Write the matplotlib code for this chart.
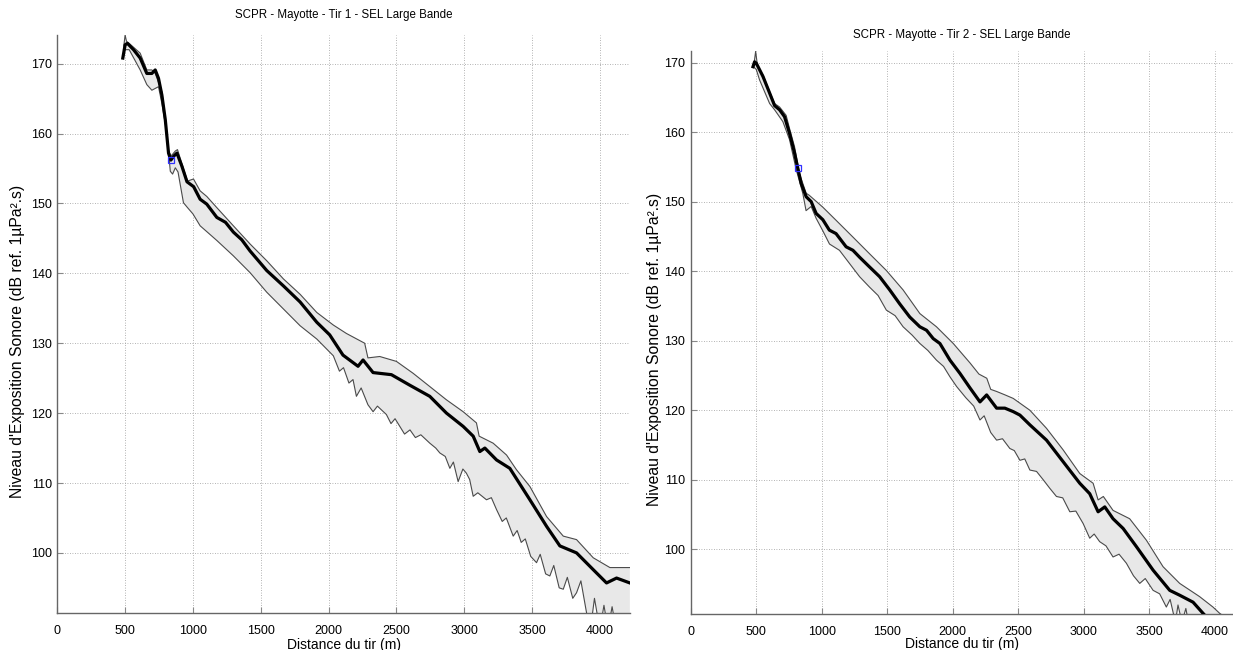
import matplotlib
matplotlib.use("Agg")
import matplotlib.pyplot as plt

plt.rcParams['font.family'] = ['Liberation Sans', 'DejaVu Sans']

# ---------------- Tir 1 ----------------
t1_mid_d = [483, 500, 517, 562, 611, 660, 697, 722, 746, 771, 796, 820, 837, 860, 882, 919, 956, 1005,
            1053, 1102, 1176, 1240, 1298, 1360, 1421, 1544, 1667, 1790, 1913, 2008, 2106, 2217, 2254,
            2328, 2463, 2598, 2746, 2869, 2992, 3066, 3115, 3152, 3238, 3336, 3484, 3607, 3705, 3828,
            3951, 4049, 4123, 4221]
t1_mid_v = [170.8, 172.7, 172.9, 172.0, 170.8, 168.6, 168.6, 169.1, 167.9, 165.5, 162.0, 157.2, 156.2,
            156.8, 157.2, 155.3, 153.1, 152.4, 150.6, 149.9, 148.0, 147.3, 145.9, 144.8, 143.2, 140.4,
            138.2, 135.9, 133.0, 131.2, 128.3, 126.7, 127.6, 125.8, 125.5, 124.0, 122.4, 120.0, 118.1,
            116.7, 114.5, 115.0, 113.3, 112.1, 107.6, 103.8, 101.0, 100.0, 97.6, 95.7, 96.4, 95.7]

t1_up_d = [490, 500, 510, 530, 611, 660, 697, 722, 771, 796, 820, 840, 870, 886, 930, 960, 1004, 1053,
           1102, 1176, 1298, 1421, 1544, 1667, 1790, 1913, 2035, 2131, 2266, 2290, 2377, 2500, 2623,
           2746, 2869, 2992, 3090, 3110, 3213, 3312, 3385, 3484, 3607, 3730, 3828, 3951, 4074, 4221]
t1_up_v = [172.5, 174.1, 173.2, 172.9, 171.5, 169.1, 169.1, 168.6, 166.0, 162.0, 157.5, 156.8, 157.5,
           157.7, 155.0, 153.2, 153.5, 151.8, 151.0, 149.4, 146.8, 144.2, 141.8, 139.2, 137.0, 134.4,
           132.6, 131.4, 130.0, 127.9, 128.1, 127.4, 125.7, 123.8, 121.9, 120.2, 118.6, 116.7, 115.7,
           114.0, 111.9, 109.5, 105.2, 102.4, 101.9, 99.3, 97.9, 97.9]

t1_lo_d = [488, 530, 611, 660, 697, 746, 771, 808, 833, 850, 870, 890, 930, 960, 1000, 1053, 1100,
           1176, 1298, 1421, 1544, 1667, 1790, 1913, 2035, 2080, 2110, 2150, 2180, 2205, 2240, 2290,
           2328, 2360, 2426, 2460, 2490, 2525, 2560, 2600, 2640, 2680, 2746, 2790, 2820, 2860, 2894,
           2920, 2955, 2990, 3016, 3040, 3066, 3100, 3164, 3200, 3238, 3280, 3310, 3361, 3390, 3420,
           3450, 3490, 3533, 3560, 3600, 3631, 3660, 3700, 3730, 3760, 3800, 3828, 3860, 3902, 3930,
           3960, 4000, 4030, 4060, 4090, 4120, 4221]
t1_lo_v = [172.0, 172.0, 169.1, 167.0, 166.2, 166.7, 164.3, 160.0, 154.6, 154.2, 155.1, 154.5, 150.1,
           149.4, 148.5, 146.8, 146.0, 144.7, 142.5, 140.1, 137.3, 134.9, 132.5, 130.6, 128.2, 126.0,
           126.5, 124.3, 124.8, 122.4, 123.6, 121.2, 120.2, 121.0, 119.8, 118.5, 119.2, 118.1, 117.0,
           117.6, 116.5, 116.9, 115.7, 115.0, 114.3, 113.8, 112.1, 113.0, 110.2, 112.0, 111.4, 110.5,
           108.1, 108.6, 107.6, 107.9, 106.2, 104.5, 105.0, 102.4, 103.2, 101.5, 102.0, 99.5, 98.6,
           99.8, 97.0, 96.7, 98.2, 95.0, 94.8, 96.5, 93.5, 94.3, 96.0, 91.4, 89.0, 93.5, 89.0, 92.5,
           89.0, 92.3, 89.0, 89.0]

t1_mark_d = [837]
t1_mark_v = [156.2]

# ---------------- Tir 2 ----------------
t2_mid_d = [475, 487, 500, 551, 602, 640, 678, 716, 754, 792, 817, 843, 881, 919, 957, 1008, 1058,
            1109, 1186, 1238, 1289, 1365, 1442, 1519, 1595, 1672, 1749, 1800, 1851, 1902, 1979, 2055,
            2132, 2208, 2259, 2335, 2398, 2462, 2513, 2589, 2716, 2843, 2970, 3046, 3110, 3161, 3224,
            3301, 3402, 3530, 3657, 3733, 3835, 3911, 3950]
t2_mid_v = [169.4, 170.1, 169.9, 168.0, 165.6, 163.8, 163.2, 162.2, 159.8, 157.0, 154.8, 152.6, 150.7,
            150.0, 148.3, 147.4, 145.9, 145.4, 143.5, 143.0, 142.0, 140.6, 139.2, 137.3, 135.3, 133.4,
            132.0, 131.5, 130.3, 129.6, 127.2, 125.3, 123.2, 121.2, 122.2, 120.3, 120.3, 119.8, 119.3,
            117.9, 115.7, 112.6, 109.5, 108.0, 105.4, 106.1, 104.4, 103.0, 100.4, 97.0, 94.1, 93.4,
            92.4, 90.8, 90.0]

t2_up_d = [480, 495, 510, 551, 602, 640, 678, 728, 754, 792, 830, 881, 905, 1008, 1110, 1238, 1365,
           1493, 1621, 1749, 1876, 2004, 2132, 2200, 2260, 2290, 2335, 2400, 2462, 2589, 2716, 2843,
           2970, 3072, 3110, 3150, 3224, 3351, 3479, 3606, 3733, 3885, 3987, 4038, 4140]
t2_up_v = [169.4, 171.6, 169.4, 168.2, 165.8, 164.1, 163.6, 162.4, 160.5, 157.9, 154.0, 151.2, 150.9,
           149.2, 147.3, 144.9, 142.5, 140.1, 137.3, 133.9, 132.0, 129.6, 126.8, 125.2, 124.6, 123.0,
           122.7, 122.2, 121.7, 120.0, 117.4, 114.3, 110.9, 109.5, 107.1, 107.6, 105.6, 104.4, 101.3,
           97.5, 95.1, 93.2, 91.7, 90.8, 89.5]

t2_lo_d = [478, 500, 525, 602, 640, 703, 754, 805, 855, 880, 919, 957, 1008, 1059, 1135, 1212, 1289,
           1365, 1430, 1493, 1560, 1621, 1690, 1749, 1810, 1876, 1930, 1979, 2030, 2100, 2160, 2208,
           2240, 2290, 2335, 2380, 2436, 2470, 2513, 2550, 2589, 2640, 2691, 2740, 2792, 2840, 2894,
           2940, 2996, 3046, 3080, 3122, 3170, 3224, 3270, 3326, 3380, 3428, 3470, 3530, 3580, 3631,
           3660, 3700, 3720, 3750, 3780, 3800, 4140]
t2_lo_v = [169.4, 169.0, 167.5, 164.1, 163.2, 161.5, 158.9, 154.6, 151.2, 148.7, 149.3, 147.6, 145.8,
           143.9, 143.0, 141.1, 139.2, 137.7, 136.5, 134.4, 133.6, 132.0, 130.8, 129.6, 128.6, 127.2,
           126.3, 124.8, 123.4, 121.8, 120.6, 118.6, 119.2, 116.8, 115.7, 115.9, 114.5, 114.2, 112.8,
           113.0, 111.4, 111.2, 110.0, 108.8, 107.6, 107.4, 105.4, 105.5, 103.7, 101.6, 102.2, 101.1,
           100.5, 98.9, 99.3, 98.0, 96.2, 95.1, 95.8, 94.1, 93.6, 91.7, 92.8, 89.5, 92.0, 89.5, 91.5,
           89.5, 89.5]

t2_mark_d = [817]
t2_mark_v = [154.8]

titles = ["SCPR - Mayotte - Tir 1 - SEL Large Bande", "SCPR - Mayotte - Tir 2 - SEL Large Bande"]
xlabel = "Distance du tir (m)"
ylabel = "Niveau d'Exposition Sonore (dB ref. 1µPa².s)"
xticks = [0, 500, 1000, 1500, 2000, 2500, 3000, 3500, 4000]
yticks = [100, 110, 120, 130, 140, 150, 160, 170]

W, H = 1233, 650
fig = plt.figure(figsize=(W / 100, H / 100), dpi=100)

def px_axes(x0, y0, x1, y1):
    return fig.add_axes([x0 / W, 1 - y1 / H, (x1 - x0) / W, (y1 - y0) / H])

ax1 = px_axes(57.3, 35, 630, 613)
ax2 = px_axes(690.8, 50.7, 1233, 614)

panels = [
    (ax1, t1_up_d, t1_up_v, t1_lo_d, t1_lo_v, t1_mid_d, t1_mid_v, t1_mark_d, t1_mark_v,
     (0, 4222), (91.4, 174.1), 1.0346),
    (ax2, t2_up_d, t2_up_v, t2_lo_d, t2_lo_v, t2_mid_d, t2_mid_v, t2_mark_d, t2_mark_v,
     (0, 4140), (90.7, 171.7), 1.028),
]

for i, (ax, ud, uv, ld, lv, md, mv, kd, kv, xl, yl, ty) in enumerate(panels):
    poly_x = list(ud) + list(ld)[::-1]
    poly_y = list(uv) + list(lv)[::-1]
    ax.fill(poly_x, poly_y, color='#e8e8e8', zorder=2, lw=0)
    ax.plot(ud, uv, color='#4a4a4a', lw=0.8, zorder=3)
    ax.plot(ld, lv, color='#4a4a4a', lw=0.8, zorder=3)
    ax.plot(md, mv, color='black', lw=2.3, zorder=4)
    ax.plot(kd, kv, ls='none', marker='s', ms=5, mfc='none', mec='#3030ff', mew=0.9, zorder=5)
    ax.set_xlim(*xl)
    ax.set_ylim(*yl)
    ax.set_xticks(xticks)
    ax.set_yticks(yticks)
    ax.grid(True, color='#9a9a9a', ls=(0, (1, 2)), lw=0.6)
    ax.set_axisbelow(True)
    for s in ['top', 'right']:
        ax.spines[s].set_visible(False)
    for s in ['left', 'bottom']:
        ax.spines[s].set_color('#666666')
        ax.spines[s].set_linewidth(1.0)
    ax.tick_params(direction='in', length=4, width=0.8, color='#888888', labelsize=9,
                   labelcolor='black')
    ax.tick_params(axis='x', pad=8.5)
    ax.tick_params(axis='y', pad=4)
    ax.text(0.5, ty, titles[i], transform=ax.transAxes, ha='center', va='center', fontsize=8.3)
    ax.set_xlabel(xlabel, fontsize=10)
    ax.set_ylabel(ylabel, fontsize=11.3)

ax1.xaxis.set_label_coords(0.5, -0.0425)
ax2.xaxis.set_label_coords(0.5, -0.0415)
ax1.yaxis.set_label_coords(-0.057, 0.47)
ax2.yaxis.set_label_coords(-0.054, 0.47)

fig.savefig("out.png", dpi=100)
